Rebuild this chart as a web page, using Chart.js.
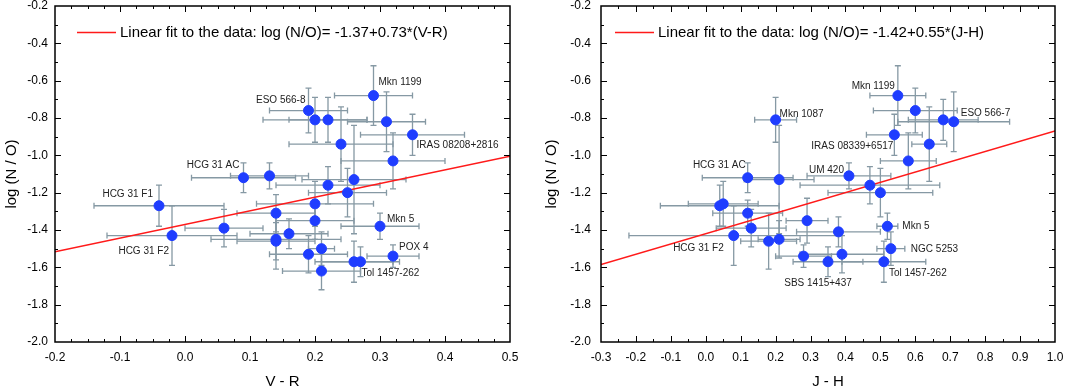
<!DOCTYPE html>
<html>
<head>
<meta charset="utf-8">
<script src="https://cdn.jsdelivr.net/npm/chart.js@4.4.1/dist/chart.umd.min.js"></script>
<style>
  html, body { margin: 0; padding: 0; background: #fff; }
  #wrap { position: relative; width: 1066px; height: 388px; }
  .panel { position: absolute; top: 0; height: 388px; }
</style>
</head>
<body>
<div id="wrap">
  <div class="panel" style="left:0;width:530px"><canvas id="vrChart" width="530" height="388"></canvas></div>
  <div class="panel" style="left:540px;width:526px"><canvas id="jhChart" width="526" height="388"></canvas></div>
</div>
<script>
// ---- V-R panel data ----
const vrX    = [0.29, 0.19, 0.20, 0.22, 0.24, 0.31, 0.35, 0.32, 0.26, 0.09, 0.13, 0.22, 0.25, -0.04, -0.02, 0.06, 0.14, 0.20, 0.20, 0.30, 0.16, 0.14, 0.14, 0.19, 0.21, 0.26, 0.27, 0.21, 0.32];
const vrY    = [-0.68, -0.76, -0.81, -0.81, -0.94, -0.82, -0.89, -1.03, -1.13, -1.12, -1.11, -1.16, -1.20, -1.27, -1.43, -1.39, -1.31, -1.26, -1.35, -1.38, -1.42, -1.45, -1.46, -1.53, -1.50, -1.57, -1.57, -1.62, -1.54];
const vrXErr = [0.06, 0.06, 0.08, 0.06, 0.08, 0.06, 0.08, 0.08, 0.08, 0.08, 0.06, 0.08, 0.06, 0.10, 0.10, 0.06, 0.06, 0.09, 0.06, 0.06, 0.06, 0.10, 0.06, 0.06, 0.02, 0.06, 0.06, 0.06, 0.04];
const vrYErr = [0.16, 0.12, 0.12, 0.12, 0.20, 0.16, 0.11, 0.15, 0.29, 0.08, 0.07, 0.10, 0.13, 0.11, 0.16, 0.10, 0.10, 0.12, 0.10, 0.07, 0.08, 0.16, 0.10, 0.10, 0.09, 0.11, 0.08, 0.10, 0.06];
const vrNames = ['Mkn 1199', 'ESO 566-8', '', '', '', '', 'IRAS 08208+2816', '', '', 'HCG 31 AC', '', '', '', 'HCG 31 F1', 'HCG 31 F2', '', '', '', '', 'Mkn 5', '', '', '', '', '', '', 'Tol 1457-262', '', 'POX 4'];
const vrFitX = [-0.2, 0.5];
const vrFitY = [-1.516, -1.005];
const vrFitText = 'Linear fit to the data: log (N/O)= -1.37+0.73*(V-R)';

// ---- J-H panel data ----
const jhX    = [0.55, 0.60, 0.20, 0.68, 0.71, 0.54, 0.64, 0.58, 0.12, 0.21, 0.41, 0.47, 0.50, 0.04, 0.05, 0.12, 0.13, 0.08, 0.18, 0.21, 0.29, 0.38, 0.52, 0.53, 0.28, 0.35, 0.39, 0.51];
const jhY    = [-0.68, -0.76, -0.81, -0.81, -0.82, -0.89, -0.94, -1.03, -1.12, -1.13, -1.11, -1.16, -1.20, -1.27, -1.26, -1.31, -1.39, -1.43, -1.46, -1.45, -1.35, -1.41, -1.38, -1.50, -1.54, -1.57, -1.53, -1.57];
const jhXErr = [0.08, 0.12, 0.06, 0.10, 0.16, 0.08, 0.05, 0.08, 0.13, 0.10, 0.12, 0.20, 0.15, 0.17, 0.10, 0.10, 0.10, 0.30, 0.08, 0.06, 0.06, 0.12, 0.03, 0.04, 0.08, 0.10, 0.12, 0.12];
const jhYErr = [0.16, 0.12, 0.12, 0.11, 0.16, 0.11, 0.20, 0.15, 0.08, 0.29, 0.07, 0.10, 0.13, 0.11, 0.12, 0.07, 0.10, 0.16, 0.15, 0.10, 0.12, 0.08, 0.07, 0.09, 0.06, 0.08, 0.10, 0.11];
const jhNames = ['Mkn 1199', '', 'Mkn 1087', '', 'ESO 566-7', 'IRAS 08339+6517', '', '', 'HCG 31 AC', '', 'UM 420', '', '', '', '', '', '', 'HCG 31 F2', '', '', '', '', 'Mkn 5', 'NGC 5253', '', 'SBS 1415+437', '', 'Tol 1457-262'];
const jhFitX = [-0.3, 1.0];
const jhFitY = [-1.585, -0.87];
const jhFitText = 'Linear fit to the data: log (N/O)= -1.42+0.55*(J-H)';

const yTicks = [-2.0, -1.8, -1.6, -1.4, -1.2, -1.0, -0.8, -0.6, -0.4, -0.2];

const FONT = "'Liberation Sans', Arial, sans-serif";

// label placement: [dx, dy, align] relative to the point, in pixels
const vrLabelPos = {
    'Mkn 1199': [5, -13, 'left'], 'ESO 566-8': [-3, -10, 'right'], 'IRAS 08208+2816': [4, 10, 'left'],
    'HCG 31 AC': [-4, -12, 'right'], 'HCG 31 F1': [-6, -11, 'right'], 'HCG 31 F2': [-3, 16, 'right'],
    'Mkn 5': [7, -7, 'left'], 'Tol 1457-262': [1, 12, 'left'], 'POX 4': [6, -9, 'left']
};
const jhLabelPos = {
    'Mkn 1199': [-3, -9, 'right'], 'Mkn 1087': [4, -6, 'left'], 'ESO 566-7': [7, -8, 'left'],
    'IRAS 08339+6517': [-1, 11, 'right'], 'HCG 31 AC': [-2, -12, 'right'], 'UM 420': [-5, -6, 'right'],
    'HCG 31 F2': [-10, 13, 'right'], 'Mkn 5': [15, 0, 'left'], 'NGC 5253': [20, 1, 'left'],
    'SBS 1415+437': [-10, 22, 'center'], 'Tol 1457-262': [5, 12, 'left']
};

const errorBars = {
    id: 'errorBars',
    beforeDatasetsDraw(chart, args, opts) {
        const { ctx, scales: { x, y } } = chart;
        const cap = 3;
        ctx.save();
        ctx.strokeStyle = '#8699a4';
        ctx.lineWidth = 1.3;
        opts.xs.forEach((xv, i) => {
            const px = x.getPixelForValue(xv), py = y.getPixelForValue(opts.ys[i]);
            const x1 = x.getPixelForValue(xv - opts.xe[i]), x2 = x.getPixelForValue(xv + opts.xe[i]);
            const y1 = y.getPixelForValue(opts.ys[i] - opts.ye[i]), y2 = y.getPixelForValue(opts.ys[i] + opts.ye[i]);
            ctx.beginPath();
            ctx.moveTo(x1, py); ctx.lineTo(x2, py);
            ctx.moveTo(x1, py - cap); ctx.lineTo(x1, py + cap);
            ctx.moveTo(x2, py - cap); ctx.lineTo(x2, py + cap);
            ctx.moveTo(px, y1); ctx.lineTo(px, y2);
            ctx.moveTo(px - cap, y1); ctx.lineTo(px + cap, y1);
            ctx.moveTo(px - cap, y2); ctx.lineTo(px + cap, y2);
            ctx.stroke();
        });
        ctx.restore();
    }
};

const pointNames = {
    id: 'pointNames',
    afterDatasetsDraw(chart, args, opts) {
        const { ctx, scales: { x, y } } = chart;
        ctx.save();
        ctx.font = '10px ' + FONT;
        ctx.fillStyle = '#222';
        ctx.textBaseline = 'middle';
        opts.names.forEach((name, i) => {
            if (!name) return;
            const p = opts.pos[name];
            ctx.textAlign = p[2];
            ctx.fillText(name, x.getPixelForValue(opts.xs[i]) + p[0], y.getPixelForValue(opts.ys[i]) + p[1]);
        });
        // legend entry for the fit
        const a = chart.chartArea;
        const lx = a.left + opts.legendX;
        ctx.strokeStyle = '#ff1a1a';
        ctx.lineWidth = 1.5;
        ctx.beginPath();
        ctx.moveTo(lx, a.top + 26.5);
        ctx.lineTo(lx + 39, a.top + 26.5);
        ctx.stroke();
        ctx.font = '15px ' + FONT;
        ctx.fillStyle = '#000';
        ctx.textAlign = 'left';
        ctx.fillText(opts.legendText, lx + 43, a.top + 26.5);
        ctx.restore();
    }
};

const frame = {
    id: 'frame',
    afterDraw(chart, args, opts) {
        const { ctx, chartArea: a, scales: { x, y } } = chart;
        ctx.save();
        ctx.strokeStyle = '#000';
        ctx.lineWidth = 1.5;
        ctx.strokeRect(a.left, a.top, a.right - a.left, a.bottom - a.top);
        ctx.lineWidth = 1;
        ctx.beginPath();
        let n = Math.round((x.max - x.min) / opts.xMinor);
        for (let i = 1; i < n; i++) {
            const px = Math.round(x.getPixelForValue(x.min + i * opts.xMinor)) + 0.5;
            const len = i % opts.xEvery === 0 ? 6 : 3;
            ctx.moveTo(px, a.bottom); ctx.lineTo(px, a.bottom - len);
            ctx.moveTo(px, a.top); ctx.lineTo(px, a.top + len);
        }
        n = Math.round((y.max - y.min) / 0.1);
        for (let i = 1; i < n; i++) {
            const py = Math.round(y.getPixelForValue(y.min + i * 0.1)) + 0.5;
            const len = i % 2 === 0 ? 6 : 3;
            ctx.moveTo(a.left, py); ctx.lineTo(a.left + len, py);
            ctx.moveTo(a.right, py); ctx.lineTo(a.right - len, py);
        }
        ctx.stroke();
        ctx.restore();
    }
};

function makeChart(id, xs, ys, xe, ye, names, labelPos, fitX, fitY, fitText, opt) {
    const ctx = document.getElementById(id).getContext('2d');
    return new Chart(ctx, {
        type: 'scatter',
        data: {
            datasets: [{
                data: xs.map((v, i) => ({ x: v, y: ys[i] })),
                backgroundColor: '#1f3dff',
                borderColor: '#1f3dff',
                pointRadius: 5,
                pointHoverRadius: 5
            }, {
                type: 'line',
                data: fitX.map((v, i) => ({ x: v, y: fitY[i] })),
                borderColor: '#ff1a1a',
                borderWidth: 1.5,
                pointRadius: 0,
                fill: false
            }]
        },
        options: {
            responsive: false,
            animation: false,
            layout: { padding: { top: 5, right: opt.padRight, left: 0, bottom: 0 } },
            plugins: {
                legend: { display: false },
                tooltip: { enabled: false },
                errorBars: { xs: xs, ys: ys, xe: xe, ye: ye },
                pointNames: { xs: xs, ys: ys, names: names, pos: labelPos, legendText: fitText, legendX: opt.legendX },
                frame: { xMinor: opt.xMinor, xEvery: opt.xEvery }
            },
            scales: {
                x: {
                    type: 'linear',
                    min: opt.xMin, max: opt.xMax,
                    afterBuildTicks: s => { s.ticks = opt.xTicks.map(v => ({ value: v })); },
                    afterFit: s => { s.height = 46; s.paddingLeft = 0; s.paddingRight = 0; },
                    grid: { display: false, drawTicks: false },
                    border: { display: false },
                    ticks: {
                        padding: 8, color: '#000', maxRotation: 0,
                        font: { family: FONT, size: 12 },
                        callback: v => v.toFixed(1)
                    },
                    title: { display: true, text: opt.xTitle, color: '#000', font: { family: FONT, size: 15 }, padding: { top: 6, bottom: -3 } }
                },
                y: {
                    type: 'linear',
                    min: -2.0, max: -0.2,
                    afterBuildTicks: s => { s.ticks = yTicks.map(v => ({ value: v })); },
                    afterFit: s => { s.width = opt.yWidth; s.paddingTop = 0; s.paddingBottom = 0; },
                    grid: { display: false, drawTicks: false },
                    border: { display: false },
                    ticks: {
                        padding: opt.yPad, color: '#000',
                        font: { family: FONT, size: 12 },
                        callback: v => v.toFixed(1)
                    },
                    title: { display: true, text: 'log (N / O)', color: '#000', font: { family: FONT, size: 15 }, padding: { top: 3, bottom: 0 } }
                }
            }
        },
        plugins: [errorBars, pointNames, frame]
    });
}

makeChart('vrChart', vrX, vrY, vrXErr, vrYErr, vrNames, vrLabelPos, vrFitX, vrFitY, vrFitText, {
    xMin: -0.2, xMax: 0.5, xTicks: [-0.2, -0.1, 0.0, 0.1, 0.2, 0.3, 0.4, 0.5],
    xMinor: 0.025, xEvery: 4, xTitle: 'V - R', yWidth: 55, yPad: 7, padRight: 20, legendX: 22
});
makeChart('jhChart', jhX, jhY, jhXErr, jhYErr, jhNames, jhLabelPos, jhFitX, jhFitY, jhFitText, {
    xMin: -0.3, xMax: 1.0, xTicks: [-0.3, -0.2, -0.1, 0.0, 0.1, 0.2, 0.3, 0.4, 0.5, 0.6, 0.7, 0.8, 0.9, 1.0],
    xMinor: 0.05, xEvery: 2, xTitle: 'J - H', yWidth: 61, yPad: 10, padRight: 11, legendX: 14
});
</script>
</body>
</html>
